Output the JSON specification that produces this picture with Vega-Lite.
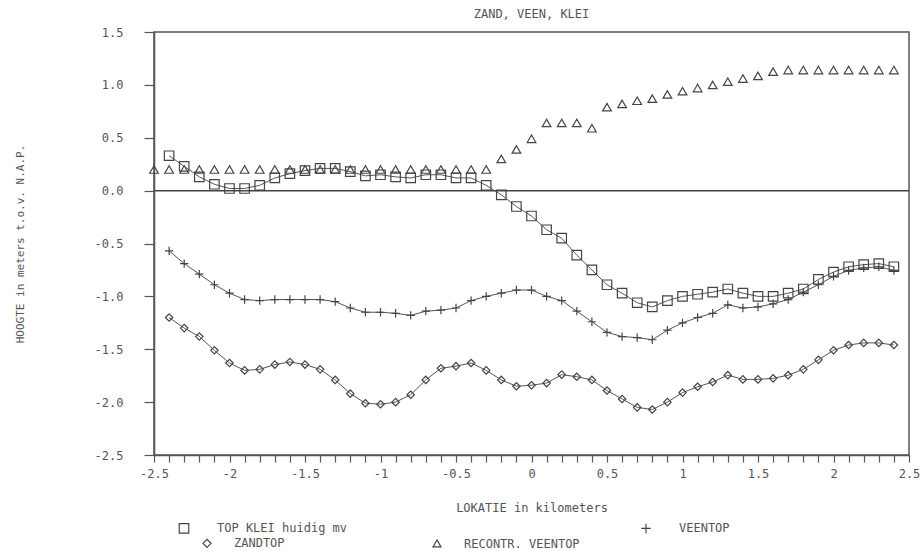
{
"$schema": "https://vega.github.io/schema/vega-lite/v6.json",
"width": 755, "height": 423, "autosize": "none",
"padding": {"left": 154, "top": 32, "right": 12, "bottom": 96},
"background": "white",
"title": {"text": "ZAND, VEEN, KLEI", "font": "DejaVu Sans Mono", "fontSize": 12, "fontWeight": "normal", "color": "#555", "offset": 5, "anchor": "middle"},
"datasets": {
"top": [{"km":-2.4,"h":0.33},{"km":-2.3,"h":0.23},{"km":-2.2,"h":0.13},{"km":-2.1,"h":0.06},{"km":-2.0,"h":0.02},{"km":-1.9,"h":0.02},{"km":-1.8,"h":0.05},{"km":-1.7,"h":0.12},{"km":-1.6,"h":0.16},{"km":-1.5,"h":0.19},{"km":-1.4,"h":0.21},{"km":-1.3,"h":0.21},{"km":-1.2,"h":0.18},{"km":-1.1,"h":0.14},{"km":-1.0,"h":0.15},{"km":-0.9,"h":0.13},{"km":-0.8,"h":0.12},{"km":-0.7,"h":0.15},{"km":-0.6,"h":0.15},{"km":-0.5,"h":0.12},{"km":-0.4,"h":0.12},{"km":-0.3,"h":0.05},{"km":-0.2,"h":-0.04},{"km":-0.1,"h":-0.15},{"km":0,"h":-0.24},{"km":0.1,"h":-0.37},{"km":0.2,"h":-0.45},{"km":0.3,"h":-0.61},{"km":0.4,"h":-0.75},{"km":0.5,"h":-0.89},{"km":0.6,"h":-0.97},{"km":0.7,"h":-1.06},{"km":0.8,"h":-1.1},{"km":0.9,"h":-1.04},{"km":1.0,"h":-1.0},{"km":1.1,"h":-0.98},{"km":1.2,"h":-0.96},{"km":1.3,"h":-0.93},{"km":1.4,"h":-0.97},{"km":1.5,"h":-1.0},{"km":1.6,"h":-1.0},{"km":1.7,"h":-0.97},{"km":1.8,"h":-0.93},{"km":1.9,"h":-0.84},{"km":2.0,"h":-0.77},{"km":2.1,"h":-0.72},{"km":2.2,"h":-0.7},{"km":2.3,"h":-0.69},{"km":2.4,"h":-0.72}],
"veen": [{"km":-2.4,"h":-0.57},{"km":-2.3,"h":-0.69},{"km":-2.2,"h":-0.79},{"km":-2.1,"h":-0.89},{"km":-2.0,"h":-0.97},{"km":-1.9,"h":-1.03},{"km":-1.8,"h":-1.04},{"km":-1.7,"h":-1.03},{"km":-1.6,"h":-1.03},{"km":-1.5,"h":-1.03},{"km":-1.4,"h":-1.03},{"km":-1.3,"h":-1.05},{"km":-1.2,"h":-1.11},{"km":-1.1,"h":-1.15},{"km":-1.0,"h":-1.15},{"km":-0.9,"h":-1.16},{"km":-0.8,"h":-1.18},{"km":-0.7,"h":-1.14},{"km":-0.6,"h":-1.13},{"km":-0.5,"h":-1.11},{"km":-0.4,"h":-1.04},{"km":-0.3,"h":-1.0},{"km":-0.2,"h":-0.97},{"km":-0.1,"h":-0.94},{"km":0,"h":-0.94},{"km":0.1,"h":-1.0},{"km":0.2,"h":-1.04},{"km":0.3,"h":-1.14},{"km":0.4,"h":-1.24},{"km":0.5,"h":-1.34},{"km":0.6,"h":-1.38},{"km":0.7,"h":-1.39},{"km":0.8,"h":-1.41},{"km":0.9,"h":-1.32},{"km":1.0,"h":-1.25},{"km":1.1,"h":-1.2},{"km":1.2,"h":-1.16},{"km":1.3,"h":-1.08},{"km":1.4,"h":-1.11},{"km":1.5,"h":-1.1},{"km":1.6,"h":-1.07},{"km":1.7,"h":-1.03},{"km":1.8,"h":-0.96},{"km":1.9,"h":-0.89},{"km":2.0,"h":-0.81},{"km":2.1,"h":-0.755},{"km":2.2,"h":-0.73},{"km":2.3,"h":-0.72},{"km":2.4,"h":-0.755}],
"zand": [{"km":-2.4,"h":-1.2},{"km":-2.3,"h":-1.3},{"km":-2.2,"h":-1.38},{"km":-2.1,"h":-1.51},{"km":-2.0,"h":-1.63},{"km":-1.9,"h":-1.7},{"km":-1.8,"h":-1.69},{"km":-1.7,"h":-1.645},{"km":-1.6,"h":-1.62},{"km":-1.5,"h":-1.645},{"km":-1.4,"h":-1.69},{"km":-1.3,"h":-1.79},{"km":-1.2,"h":-1.92},{"km":-1.1,"h":-2.01},{"km":-1.0,"h":-2.02},{"km":-0.9,"h":-2.0},{"km":-0.8,"h":-1.93},{"km":-0.7,"h":-1.79},{"km":-0.6,"h":-1.68},{"km":-0.5,"h":-1.66},{"km":-0.4,"h":-1.63},{"km":-0.3,"h":-1.7},{"km":-0.2,"h":-1.79},{"km":-0.1,"h":-1.85},{"km":0,"h":-1.84},{"km":0.1,"h":-1.82},{"km":0.2,"h":-1.74},{"km":0.3,"h":-1.76},{"km":0.4,"h":-1.79},{"km":0.5,"h":-1.89},{"km":0.6,"h":-1.97},{"km":0.7,"h":-2.05},{"km":0.8,"h":-2.07},{"km":0.9,"h":-2.0},{"km":1.0,"h":-1.91},{"km":1.1,"h":-1.855},{"km":1.2,"h":-1.81},{"km":1.3,"h":-1.745},{"km":1.4,"h":-1.785},{"km":1.5,"h":-1.785},{"km":1.6,"h":-1.775},{"km":1.7,"h":-1.745},{"km":1.8,"h":-1.69},{"km":1.9,"h":-1.6},{"km":2.0,"h":-1.51},{"km":2.1,"h":-1.46},{"km":2.2,"h":-1.44},{"km":2.3,"h":-1.44},{"km":2.4,"h":-1.46}],
"recon": [{"km":-2.5,"h":0.2},{"km":-2.4,"h":0.2},{"km":-2.3,"h":0.2},{"km":-2.2,"h":0.2},{"km":-2.1,"h":0.2},{"km":-2.0,"h":0.2},{"km":-1.9,"h":0.2},{"km":-1.8,"h":0.2},{"km":-1.7,"h":0.2},{"km":-1.6,"h":0.2},{"km":-1.5,"h":0.2},{"km":-1.4,"h":0.2},{"km":-1.3,"h":0.2},{"km":-1.2,"h":0.2},{"km":-1.1,"h":0.2},{"km":-1.0,"h":0.2},{"km":-0.9,"h":0.2},{"km":-0.8,"h":0.2},{"km":-0.7,"h":0.2},{"km":-0.6,"h":0.2},{"km":-0.5,"h":0.2},{"km":-0.4,"h":0.2},{"km":-0.3,"h":0.2},{"km":-0.2,"h":0.3},{"km":-0.1,"h":0.39},{"km":0,"h":0.49},{"km":0.1,"h":0.64},{"km":0.2,"h":0.64},{"km":0.3,"h":0.64},{"km":0.4,"h":0.59},{"km":0.5,"h":0.79},{"km":0.6,"h":0.82},{"km":0.7,"h":0.85},{"km":0.8,"h":0.87},{"km":0.9,"h":0.91},{"km":1.0,"h":0.94},{"km":1.1,"h":0.97},{"km":1.2,"h":1.0},{"km":1.3,"h":1.03},{"km":1.4,"h":1.06},{"km":1.5,"h":1.085},{"km":1.6,"h":1.125},{"km":1.7,"h":1.14},{"km":1.8,"h":1.14},{"km":1.9,"h":1.14},{"km":2.0,"h":1.14},{"km":2.1,"h":1.14},{"km":2.2,"h":1.14},{"km":2.3,"h":1.14},{"km":2.4,"h":1.14}],
"zero": [{"km":-2.5,"h":0},{"km":2.5,"h":0}]
},
"encoding": {
  "x": {"field": "km", "type": "quantitative", "scale": {"domain": [-2.5, 2.5], "nice": false},
    "axis": {"values": [-2.5,-2.4,-2.3,-2.2,-2.1,-2,-1.9,-1.8,-1.7,-1.6,-1.5,-1.4,-1.3,-1.2,-1.1,-1,-0.9,-0.8,-0.7,-0.6,-0.5,-0.4,-0.3,-0.2,-0.1,0,0.1,0.2,0.3,0.4,0.5,0.6,0.7,0.8,0.9,1,1.1,1.2,1.3,1.4,1.5,1.6,1.7,1.8,1.9,2,2.1,2.2,2.3,2.4,2.5],
      "labelExpr": "abs(datum.value*2 - round(datum.value*2)) < 0.01 ? '' + round(datum.value*10)/10 : ''",
      "tickSize": 7, "labelPadding": 6, "labelFlush": false, "labelOverlap": false, "labelSeparation": 0,
      "title": "LOKATIE in kilometers", "titleY": 52, "titleBaseline": "middle"}},
  "y": {"field": "h", "type": "quantitative", "scale": {"domain": [-2.5, 1.5], "nice": false},
    "axis": {"values": [-2.5,-2,-1.5,-1,-0.5,0,0.5,1,1.5], "labelExpr": "replace(format(datum.value, '.1f'), '\u2212', '-')", "tickSize": 10, "labelPadding": 21, "labelFlush": false, "labelOverlap": false, "labelBaseline": "middle",
      "title": "HOOGTE in meters t.o.v. N.A.P.", "titleX": -129, "titleY": 211.5, "titleAngle": -90, "titleBaseline": "bottom", "titleAnchor": "middle", "titleFontSize": 11}}
},
"layer": [
{"data": {"name": "zero"}, "mark": {"type": "line", "color": "#444", "strokeWidth": 1.5}},
{"layer": [
  {"data": {"name": "top"}, "mark": {"type": "line", "color": "#555", "strokeWidth": 1}},
  {"data": {"name": "top"}, "mark": {"type": "point", "filled": false, "color": "#444", "strokeWidth": 1.2, "size": 90, "opacity": 1},
   "encoding": {"shape": {"datum": "TOP KLEI huidig mv", "scale": {"domain": ["TOP KLEI huidig mv", "VEENTOP"], "range": ["square", "M-1,0H1M0,-1V1"]},
       "legend": {"orient": "none", "legendX": 24, "legendY": 490, "direction": "horizontal", "columns": 2, "columnPadding": 290, "title": null, "padding": 0, "symbolSize": 90, "labelOffset": 27, "symbolStrokeColor": "#444", "symbolStrokeWidth": 1.2}}}},
  {"data": {"name": "veen"}, "mark": {"type": "line", "color": "#555", "strokeWidth": 1}},
  {"data": {"name": "veen"}, "mark": {"type": "point", "filled": false, "color": "#444", "strokeWidth": 1.2, "size": 70, "opacity": 1},
   "encoding": {"shape": {"datum": "VEENTOP"}}}
]},
{"layer": [
  {"data": {"name": "zand"}, "mark": {"type": "line", "color": "#555", "strokeWidth": 1}},
  {"data": {"name": "zand"}, "mark": {"type": "point", "filled": false, "color": "#444", "strokeWidth": 1.2, "size": 55, "opacity": 1},
   "encoding": {"shape": {"datum": "ZANDTOP", "scale": {"domain": ["ZANDTOP", "RECONTR. VEENTOP"], "range": ["diamond", "triangle-up"]},
       "legend": {"orient": "none", "legendX": 47, "legendY": 505, "direction": "horizontal", "columns": 2, "columnPadding": 145, "title": null, "padding": 0, "symbolSize": 64, "labelOffset": 21, "symbolStrokeColor": "#444", "symbolStrokeWidth": 1.2}}}},
  {"data": {"name": "recon"}, "mark": {"type": "point", "filled": false, "color": "#444", "strokeWidth": 1.2, "size": 75, "opacity": 1},
   "encoding": {"shape": {"datum": "RECONTR. VEENTOP"}}}
]}
],
"resolve": {"scale": {"shape": "independent"}, "legend": {"shape": "independent"}},
"config": {
  "font": "DejaVu Sans Mono",
  "view": {"stroke": "#555", "strokeWidth": 1.5},
  "axis": {"grid": false, "labelOverlap": false, "labelFlush": false, "domainColor": "#555", "domainWidth": 1.5, "tickColor": "#555", "tickWidth": 1.2, "labelColor": "#555", "titleColor": "#555", "labelFont": "DejaVu Sans Mono", "titleFont": "DejaVu Sans Mono", "labelFontSize": 12, "titleFontSize": 12, "titleFontWeight": "normal"},
  "legend": {"labelFont": "DejaVu Sans Mono", "labelFontSize": 12, "labelColor": "#555"}
}
}
